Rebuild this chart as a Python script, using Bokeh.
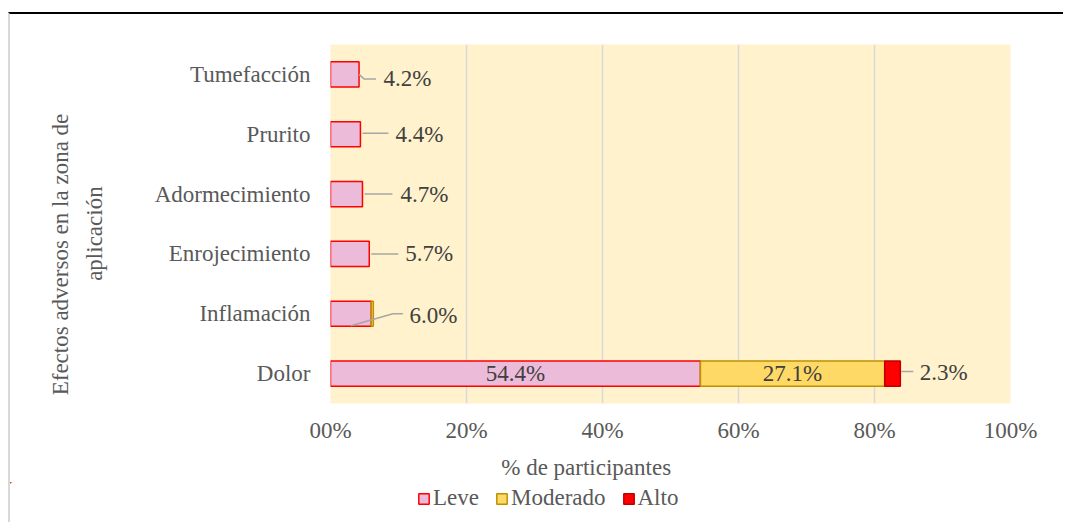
from bokeh.plotting import figure
from bokeh.models import (ColumnDataSource, FixedTicker, Legend, LegendItem, LinearAxis, Spacer)
from bokeh.layouts import column, row
from bokeh.embed import file_html
from bokeh.resources import INLINE
from bokeh.core.properties import value

# ---------------- data ----------------
categories = ["Dolor", "Inflamación", "Enrojecimiento", "Adormecimiento", "Prurito", "Tumefacción"]
leve = [54.4, 6.0, 5.7, 4.7, 4.4, 4.2]
moderado = [27.1, 0.3, 0.0, 0.0, 0.0, 0.0]
alto = [2.3, 0.0, 0.0, 0.0, 0.0, 0.0]
series_names = ["Leve", "Moderado", "Alto"]
x_ticks = [0, 20, 40, 60, 80, 100]
x_tick_labels = ["00%", "20%", "40%", "60%", "80%", "100%"]
y_title_lines = ["Efectos adversos en la zona de", "aplicación"]
x_title = "% de participantes"

# ---------------- styles / positions ----------------
FONT = "Liberation Serif"
FS = "23px"
fills = ["#EBBBD9", "#FFD966", "#FF0000"]
lines = ["#FF0000", "#BF9000", "#C00000"]
TXT = "#404040"
AX = "#595959"

W, H, HL = 1055, 470, 40
ML, MR, MT, MB = 320, 55, 30, 81
FW, FH = W - ML - MR, H - MT - MB
PX_X = 100.0 / FW
PX_Y = 6.0 / FH
x_title_pos = 37.6          # where the x title is centred (x units)
y_title_pos = [2.49, 2.84]  # where each y-title line is centred (y units)

p = figure(width=W, height=H, output_backend="svg", toolbar_location=None,
           x_range=(0, 100), y_range=(0, len(categories)),
           min_border_left=ML, min_border_right=MR, min_border_top=MT, min_border_bottom=MB)
p.styles = {"border-left": "2px solid #D9D9D9", "border-top": "2px solid #000000"}
p.background_fill_color = "#FFF2CC"
p.border_fill_color = "white"
p.outline_line_color = None

ypos = [i + 0.5 for i in range(len(categories))]
vals = [leve, moderado, alto]

sources = []
cum = [0.0] * len(categories)
seg_info = {}
for s, (name, v) in enumerate(zip(series_names, vals)):
    rows = [i for i in range(len(categories)) if v[i] > 0]
    src = ColumnDataSource(dict(
        y=[ypos[i] for i in rows],
        left=[cum[i] for i in rows],
        right=[cum[i] + v[i] for i in rows],
    ))
    sources.append(src)
    for i in rows:
        seg_info[(categories[i], name)] = (cum[i], cum[i] + v[i], ypos[i], v[i])
    p.hbar(y="y", left="left", right="right", height=0.42, source=src,
           fill_color=fills[s], line_color=lines[s], line_width=1.5)
    cum = [cum[i] + v[i] for i in range(len(categories))]

# ---------------- data labels ----------------
# leader-line paths in pixels relative to anchor (dx right, dy down); text offset
leader = {
    ("Tumefacción", "Leve"): ("end", [(0, 0), (5, 4.5), (17, 4.5)], (24.5, 4.5)),
    ("Prurito", "Leve"): ("end", [(2, -1), (28, -1)], (35, 0)),
    ("Adormecimiento", "Leve"): ("end", [(2, 0), (30, 0)], (38, 0)),
    ("Enrojecimiento", "Leve"): ("end", [(2, 0), (29, 0)], (36, 0)),
    ("Inflamación", "Leve"): ("mid", [(0, 12), (42, 0), (52, 0)], (58.5, 1.5)),
    ("Dolor", "Alto"): ("end", [(1, -2), (13, -2)], (19.5, -1)),
}

in_x, in_y, in_t = [], [], []
out_x, out_y, out_t = [], [], []
lx, ly = [], []
for key, (l, r_, yc, v) in seg_info.items():
    txt = f"{v:.1f}%"
    if key in leader:
        anchor, path, toff = leader[key]
        ax = r_ if anchor == "end" else (l + r_) / 2
        lx.append([ax + dx * PX_X for dx, dy in path])
        ly.append([yc - dy * PX_Y for dx, dy in path])
        out_x.append(ax + toff[0] * PX_X)
        out_y.append(yc - toff[1] * PX_Y)
        out_t.append(txt)
    elif v >= 10:
        in_x.append((l + r_) / 2)
        in_y.append(yc)
        in_t.append(txt)

p.multi_line(xs=lx, ys=ly, line_color="#A6A6A6", line_width=1.5)
p.text(x=in_x, y=in_y, text=in_t, text_font=value(FONT), text_font_size=FS,
       text_color=TXT, text_align="center", text_baseline="middle")
p.text(x=out_x, y=out_y, text=out_t, text_font=value(FONT), text_font_size=FS,
       text_color=TXT, text_align="left", text_baseline="middle")


# ---------------- axes ----------------
def style_axis(ax, standoff):
    ax.axis_line_color = None
    ax.major_tick_line_color = None
    ax.minor_tick_line_color = None
    ax.major_label_text_font = FONT
    ax.major_label_text_font_size = FS
    ax.major_label_text_color = AX
    ax.major_label_standoff = standoff


p.xaxis.ticker = FixedTicker(ticks=x_ticks)
p.xaxis.major_label_overrides = {t: lab for t, lab in zip(x_ticks, x_tick_labels)}
p.yaxis.ticker = FixedTicker(ticks=ypos)
p.yaxis.major_label_overrides = {y: c for y, c in zip(ypos, categories)}
style_axis(p.xaxis[0], 8)
style_axis(p.yaxis[0], 14)

# x title carried by a second bottom axis (one labelled tick)
xt = LinearAxis(ticker=FixedTicker(ticks=[x_title_pos]),
                major_label_overrides={x_title_pos: x_title})
style_axis(xt, 3)
p.add_layout(xt, "below")

# y title lines carried by two extra left axes (inner line first)
yt2 = LinearAxis(ticker=FixedTicker(ticks=[y_title_pos[1]]),
                 major_label_overrides={y_title_pos[1]: y_title_lines[1]},
                 major_label_orientation="vertical")
style_axis(yt2, 38)
p.add_layout(yt2, "left")
yt1 = LinearAxis(ticker=FixedTicker(ticks=[y_title_pos[0]]),
                 major_label_overrides={y_title_pos[0]: y_title_lines[0]},
                 major_label_orientation="vertical")
style_axis(yt1, 0)
p.add_layout(yt1, "left")

p.xgrid.ticker = FixedTicker(ticks=x_ticks)
p.xgrid.grid_line_color = "#D9D9D9"
p.xgrid.grid_line_width = 1.5
p.ygrid.grid_line_color = None

# ---------------- legend strip (continues the chart area) ----------------
# its ranges lie far away from the data, so only the legend keys show
pl = figure(width=W, height=HL, output_backend="svg", toolbar_location=None,
            x_axis_type=None, y_axis_type=None, x_range=(500, 501), y_range=(-300, -299),
            min_border=0, min_border_left=0, min_border_right=0,
            min_border_top=0, min_border_bottom=0)
pl.styles = {"border-left": "2px solid #D9D9D9"}
pl.outline_line_color = None
pl.background_fill_color = "white"
pl.border_fill_color = "white"
key_renderers = []
for s in range(len(series_names)):
    key_renderers.append(pl.hbar(y="y", left="left", right="right", height=0.42, source=sources[s],
                                 fill_color=fills[s], line_color=lines[s], line_width=1.5))
legend = Legend(items=[LegendItem(label=n, renderers=[r]) for n, r in zip(series_names, key_renderers)],
                orientation="horizontal", location=(407, 11),
                label_text_font=FONT, label_text_font_size=FS, label_text_color=AX,
                glyph_width=13, glyph_height=13, label_standoff=3, spacing=16,
                padding=0, margin=0, border_line_color=None, background_fill_alpha=0)
pl.add_layout(legend)

layout = column(Spacer(width=1057, height=12),
                row(Spacer(width=8, height=H), p),
                row(Spacer(width=8, height=HL), pl))
open("out.html", "w").write(file_html(layout, INLINE))
